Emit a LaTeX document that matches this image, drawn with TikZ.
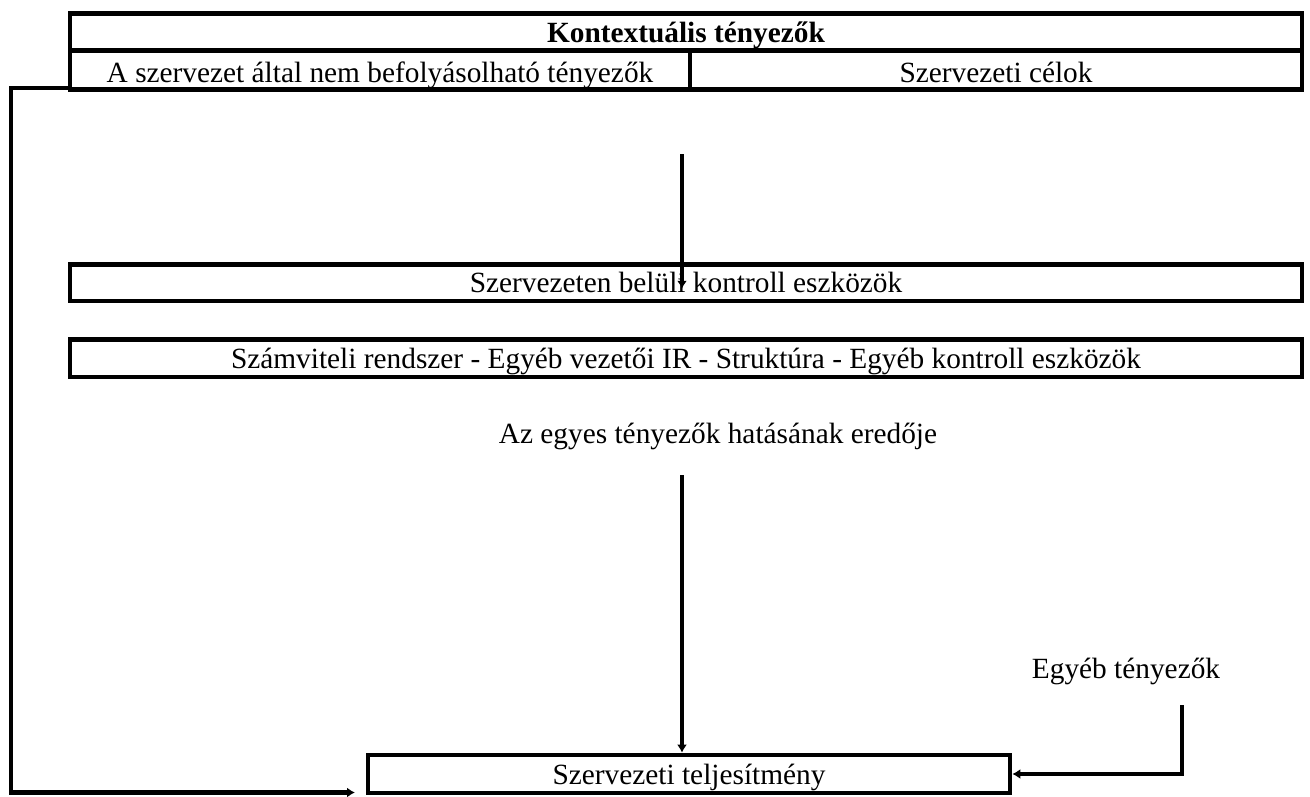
\documentclass[tikz,border=0pt]{standalone}
\usepackage{fontspec}
\setmainfont{Liberation Serif}
\usetikzlibrary{arrows.meta,calc}

\begin{document}
\begin{tikzpicture}[
    x=0.75pt, y=-0.75pt,
    box/.style={draw, line width=3.5pt, inner sep=0pt, align=center,
                text height=17pt, text depth=2pt,
                font=\fontsize{22}{26}\selectfont},
    lbl/.style={inner sep=0pt, anchor=base, font=\fontsize{22}{26}\selectfont},
    arr/.style={-{Latex[length=6pt,width=7.5pt]}, line width=3.5pt},
  ]
  \useasboundingbox (0,0) rectangle (1310,796);

  % context factors
  \node[box, minimum width=924pt, minimum height=27.75pt,
        font=\fontsize{22}{26}\selectfont\bfseries]
    (ctx) at (686,32) {Kontextuális tényezők};
  \node[box, minimum width=465pt, minimum height=29.25pt,
        text height=18pt, text depth=0pt] (extf) at (380,70)
    {A szervezet által nem befolyásolható tényezők};
  \node[box, minimum width=459pt, minimum height=29.25pt,
        text height=18pt, text depth=0pt] (goals) at (996,70)
    {Szervezeti célok};

  % control tools
  \node[box, minimum width=924pt, minimum height=27.4pt] (ctrl) at (686,282.75)
    {Szervezeten belüli kontroll eszközök};
  \node[box, minimum width=924pt, minimum height=28.1pt] (tools) at (686,358.25)
    {Számviteli rendszer - Egyéb vezetői IR - Struktúra - Egyéb kontroll eszközök};

  \node[lbl] (result) at (718,443) {Az egyes tényezők hatásának eredője};
  \node[lbl] (other) at (1126,678) {Egyéb tényezők};

  \node[box, minimum width=481.5pt, minimum height=28.5pt] (perf) at (689,774)
    {Szervezeti teljesítmény};

  \coordinate (a1) at (682,154);
  \coordinate (a2) at (682,475);
  \coordinate (o1) at (1182,705);
  \coordinate (fb) at (70,88);
  \coordinate (fbend) at (355,792.5);

  \draw[arr] (a1) -- ([yshift=-4.5pt]a1 |- ctrl.center);
  \draw[arr] (a2) -- (a2 |- perf.north);
  \draw[arr] (o1) |- (perf.east);
  \draw[arr] (fb) -- (11,88) |- (fbend);
\end{tikzpicture}
\end{document}
